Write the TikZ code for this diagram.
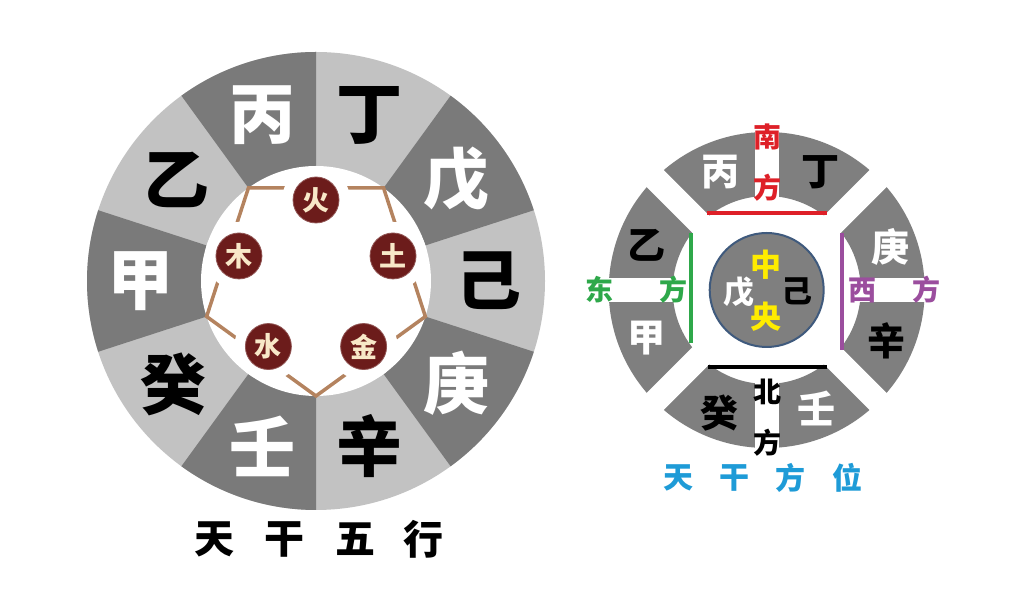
\documentclass[tikz,border=0pt]{standalone}
\usepackage{fontspec}
\newfontfamily\cjk{Noto Sans CJK SC Black}
\usetikzlibrary{calc}
\definecolor{ringdark}{RGB}{122,122,122}
\definecolor{ringlight}{RGB}{194,194,194}
\definecolor{sect}{RGB}{127,127,127}
\definecolor{elemfill}{RGB}{108,28,27}
\definecolor{elemtext}{RGB}{248,232,200}
\definecolor{pentline}{RGB}{180,131,95}
\definecolor{nanred}{RGB}{222,32,40}
\definecolor{dongreen}{RGB}{46,168,74}
\definecolor{xipurple}{RGB}{155,78,158}
\definecolor{zhongyellow}{RGB}{255,236,0}
\definecolor{capblue}{RGB}{30,155,215}
\definecolor{centerborder}{RGB}{63,90,125}
\begin{document}
\begin{tikzpicture}[x=1pt,y=1pt,
  bigch/.style={font=\cjk\fontsize{66}{66}\selectfont, inner sep=0pt},
  midch/.style={font=\cjk\fontsize{38}{38}\selectfont, inner sep=0pt},
  smch/.style={font=\cjk\fontsize{28}{28}\selectfont, inner sep=0pt},
  cench/.style={font=\cjk\fontsize{31}{31}\selectfont, inner sep=0pt},
  capL/.style={font=\cjk\fontsize{40}{40}\selectfont, inner sep=0pt, text=black},
  capR/.style={font=\cjk\fontsize{30}{30}\selectfont, inner sep=0pt, text=capblue},
  elem/.style={circle, fill=elemfill, draw=elemfill!75!white, line width=0.8pt, minimum size=46pt, inner sep=0pt, text=elemtext, font=\cjk\fontsize{27}{27}\selectfont},
  dirline/.style={line width=4pt}
]
\useasboundingbox (0,0) rectangle (1009,599);
\fill[white] (0,0) rectangle (1009,599);

% ---------------- left ring ----------------
\coordinate (L) at (316,318);
\fill[ringlight] (L) circle[radius=229];
\foreach \a in {90,18,-54,-126,162} {
  \fill[ringdark] (L) -- ++(\a:229) arc[start angle=\a, end angle=\a+36, radius=229] -- cycle;
}
\fill[white] (L) circle[radius=115];

\node[bigch, text=white] (bing1) at ($(L)+(108:174)$) {丙};
\node[bigch, text=black] (ding1) at ($(L)+(72:174)$) {丁};
\node[bigch, text=white] (wu1)   at ($(L)+(36:174)$) {戊};
\node[bigch, text=black] (ji1)   at ($(L)+(0:172)$) {己};
\node[bigch, text=white] (geng1) at ($(L)+(-36:174)$) {庚};
\node[bigch, text=black] (xin1)  at ($(L)+(-72:174)$) {辛};
\node[bigch, text=white] (ren1)  at ($(L)+(-108:174)$) {壬};
\node[bigch, text=black] (gui1)  at ($(L)+(-144:176)$) {癸};
\node[bigch, text=white] (jia1)  at ($(L)+(180:176)$) {甲};
\node[bigch, text=black] (yi1)   at ($(L)+(144:172)$) {乙};

% pentagon
\coordinate (p1) at ($(L)+(54:115)$);
\coordinate (p2) at ($(L)+(126:115)$);
\coordinate (p3) at ($(L)+(198:115)$);
\coordinate (p4) at ($(L)+(270:115)$);
\coordinate (p5) at ($(L)+(342:115)$);
\draw[pentline, line width=3.5pt, line join=miter] (p1) -- (p2) -- (p3) -- (p4) -- (p5) -- cycle;
\foreach \a in {90,18,-54,-126,162} {
  \fill[white] ($(L)+(\a:81)$) circle[radius=34];
}
\node[elem] (huo) at ($(L)+(90:81)$) {火};
\node[elem] (tu)  at ($(L)+(18:81)$) {土};
\node[elem] (jin) at ($(L)+(-54:81)$) {金};
\node[elem] (shui) at ($(L)+(-126:81)$) {水};
\node[elem] (mu)  at ($(L)+(162:81)$) {木};

\node[capL] (cl1) at (214,60) {天};
\node[capL] (cl2) at (284,60) {干};
\node[capL] (cl3) at (355,60) {五};
\node[capL] (cl4) at (423,60) {行};

% ---------------- right figure ----------------
\coordinate (R) at (766.7,309);
\fill[sect, even odd rule] (R) circle[radius=158] (R) circle[radius=94];
\foreach \a in {0,45,90,135} {
  \begin{scope}[shift={(R)}, rotate=\a]
    \fill[white] (-172,-12) rectangle (172,12);
  \end{scope}
}
\fill[sect] (R) circle[radius=57];
\draw[centerborder, line width=2pt] (R) circle[radius=57];

\coordinate (redA) at ($(R)+(-60,76.7)$);
\coordinate (redB) at ($(R)+(60,76.7)$);
\coordinate (blkA) at ($(R)+(-59,-76.7)$);
\coordinate (blkB) at ($(R)+(60,-76.7)$);
\coordinate (grnA) at ($(R)+(-75.7,56.7)$);
\coordinate (grnB) at ($(R)+(-75.7,-53.3)$);
\coordinate (purA) at ($(R)+(75.6,57)$);
\coordinate (purB) at ($(R)+(75.6,-60)$);
\draw[dirline, nanred] (redA) -- (redB);
\draw[dirline, black] (blkA) -- (blkB);
\draw[dirline, dongreen] (grnA) -- (grnB);
\draw[dirline, xipurple] (purA) -- (purB);

\node[smch, text=nanred] (nan) at ($(R)+(1,153.3)$) {南};
\node[smch, text=nanred] (nanf) at ($(R)+(1,102)$) {方};
\node[midch, text=white] (bing2) at ($(R)+(-46.7,118.3)$) {丙};
\node[midch, text=black] (ding2) at ($(R)+(54,117.7)$) {丁};
\node[midch, text=black] (yi2) at ($(R)+(-120,44.3)$) {乙};
\node[midch, text=white] (jia2) at ($(R)+(-120,-48.3)$) {甲};
\node[smch, text=dongreen] (dong) at ($(R)+(-167,0)$) {东};
\node[smch, text=dongreen] (dongf) at ($(R)+(-93.4,0)$) {方};
\node[midch, text=white] (geng2) at ($(R)+(123.3,43.3)$) {庚};
\node[midch, text=black] (xin2) at ($(R)+(120,-50.7)$) {辛};
\node[smch, text=xipurple] (xi) at ($(R)+(95.3,0)$) {西};
\node[smch, text=xipurple] (xif) at ($(R)+(160,0)$) {方};
\node[midch, text=black] (gui2) at ($(R)+(-47.7,-123.3)$) {癸};
\node[midch, text=white] (ren2) at ($(R)+(50,-118.3)$) {壬};
\node[smch, text=black] (bei) at ($(R)+(1,-102.3)$) {北};
\node[smch, text=black] (beif) at ($(R)+(1,-152.3)$) {方};
\node[cench, text=zhongyellow] (zhong) at ($(R)+(-0.7,25)$) {中};
\node[cench, text=zhongyellow] (yang) at ($(R)+(-0.7,-26.7)$) {央};
\node[cench, text=white] (wu2) at ($(R)+(-27.7,-2.3)$) {戊};
\node[cench, text=black] (ji2) at ($(R)+(30,-1.7)$) {己};

\node[capR] (cr1) at (678.3,120.7) {天};
\node[capR] (cr2) at (734,120.7) {干};
\node[capR] (cr3) at (790,120.7) {方};
\node[capR] (cr4) at (847.3,120.7) {位};
\end{tikzpicture}
\end{document}
